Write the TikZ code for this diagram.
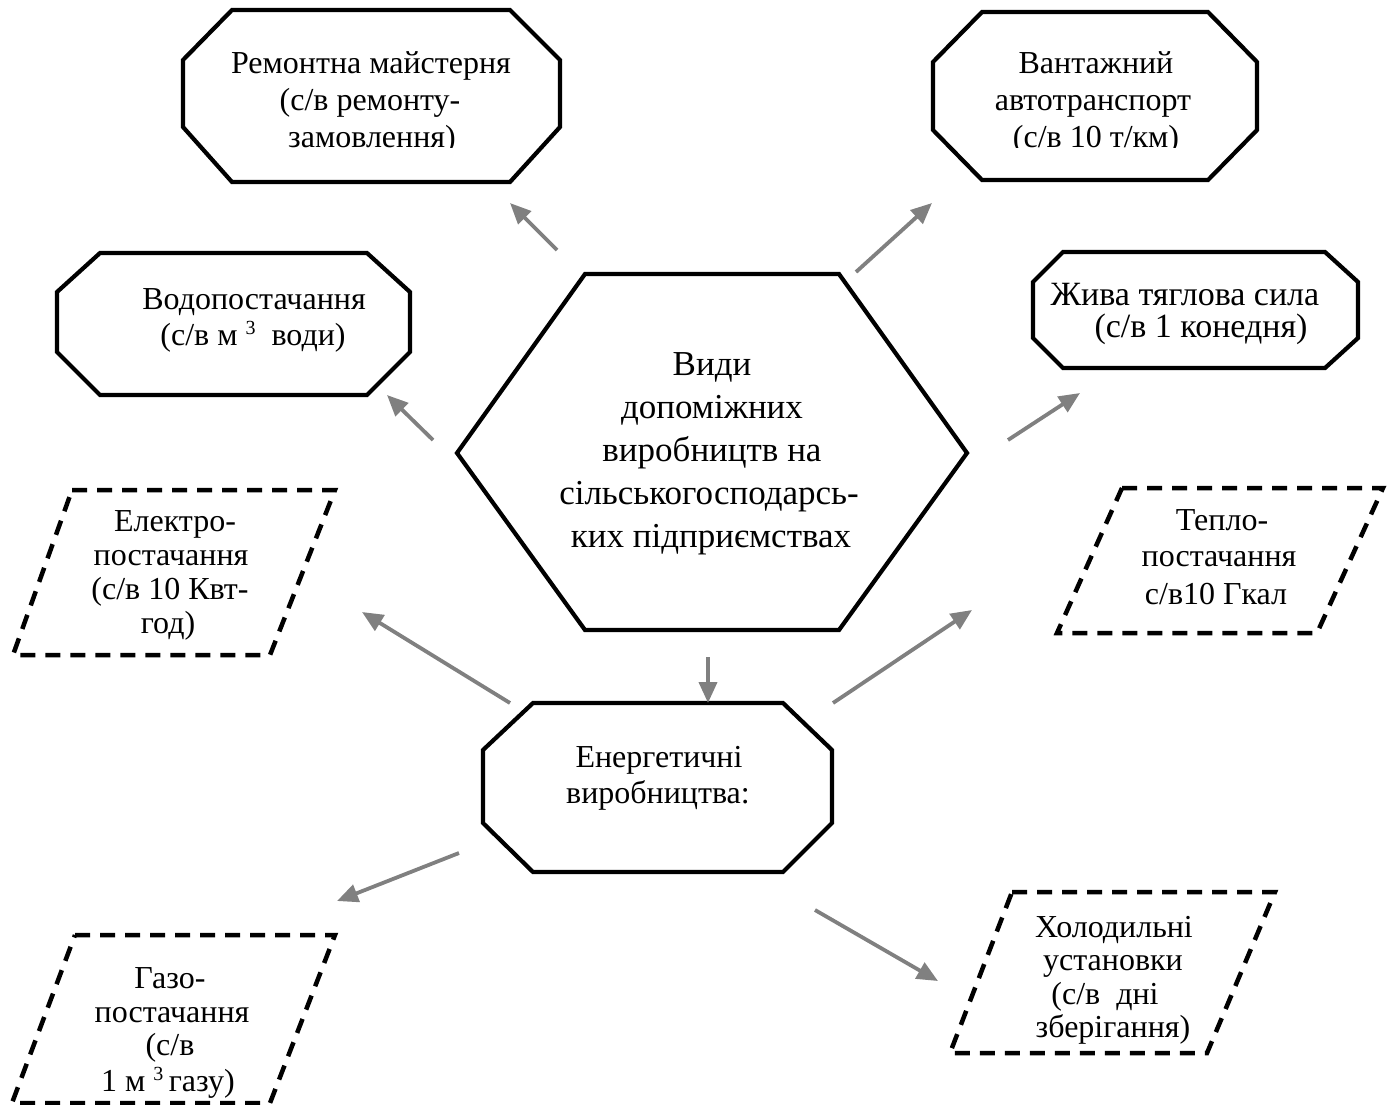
\documentclass[tikz,border=0pt]{standalone}
\usepackage{fontspec}
\setmainfont{Liberation Serif}
\usetikzlibrary{arrows.meta}
\definecolor{arrowgray}{RGB}{128,128,128}
\newcommand{\supthree}{\raisebox{0.33em}{\fontsize{20}{20}\selectfont 3}}
\tikzset{
  lbl/.style={font=\fontsize{32}{36}\selectfont, inner sep=0pt, anchor=base},
  lblsm/.style={font=\fontsize{34}{34}\selectfont, inner sep=0pt, anchor=base},
  big/.style={font=\fontsize{35}{43}\selectfont, inner sep=0pt, anchor=base},
  solidbox/.style={draw=black, line width=4.2pt, line join=miter},
  dashbox/.style={draw=black, line width=4.5pt, dash pattern=on 15pt off 10pt},
  arr/.style={draw=arrowgray, line width=3.8pt, -{Triangle[length=21pt,width=18pt]}}
}
\begin{document}
\begin{tikzpicture}[x=1pt,y=-1pt]
\useasboundingbox (0,0) rectangle (1394,1104);
% ---------- outlines ----------
% central hexagon
\draw[solidbox] (585,274) -- (839,274) -- (967,453) -- (839,630) -- (585,630) -- (457,453) -- cycle;
% repair workshop
\draw[solidbox] (232,10) -- (510,10) -- (560,60) -- (560,127) -- (510,182) -- (232,182) -- (183,127) -- (183,60) -- cycle;
% freight transport
\draw[solidbox] (982,12) -- (1208,12) -- (1257,62) -- (1257,130) -- (1208,180) -- (982,180) -- (933,130) -- (933,62) -- cycle;
% water supply
\draw[solidbox] (100,253) -- (367,253) -- (410,292) -- (410,352) -- (367,395) -- (100,395) -- (57,352) -- (57,292) -- cycle;
% draught power
\draw[solidbox] (1063,252) -- (1325,252) -- (1358,282) -- (1358,338) -- (1325,368) -- (1063,368) -- (1033,338) -- (1033,282) -- cycle;
% energy production
\draw[solidbox] (533,703) -- (783,703) -- (832,750) -- (832,823) -- (783,872) -- (533,872) -- (483,823) -- (483,750) -- cycle;
% dashed parallelograms
\draw[dashbox] (72,490) -- (335,490) -- (270,655) -- (13,655) -- cycle;
\draw[dashbox] (1122,488) -- (1383,488) -- (1317,633) -- (1057,633) -- cycle;
\draw[dashbox] (75,935) -- (335,935) -- (270,1103) -- (12,1103) -- cycle;
\draw[dashbox] (1012,892) -- (1275,892) -- (1207,1053) -- (950,1053) -- cycle;

% ---------- texts ----------
\node[big] (c1) at (712,375) {Види};
\node[big] (c2) at (712,418) {допоміжних};
\node[big] (c3) at (712,461) {виробництв на};
\node[big] (c4) at (709,504) {сільськогосподарсь-};
\node[big] (c5) at (711,547) {ких підприємствах};

\node[lbl] (r1) at (371,73) {Ремонтна майстерня};
\node[lbl] (r2) at (370,110) {(с/в ремонту-};
\node[lbl] (t1) at (1096,73) {Вантажний};
\node[lbl] (t2) at (1093,110) {автотранспорт};
\begin{scope}
\clip (0,0) rectangle (1394,147);
\node[lbl] (r3) at (372,147) {замовлення)};
\node[lbl] (t3) at (1096,147) {(с/в 10 т/км)};
\end{scope}

\node[lbl] (w1) at (254,309) {Водопостачання};
\node[lbl] (w2) at (253,345) {(с/в м \supthree~ води)};

\node[lblsm] (d1) at (1185,305) {Жива тяглова сила};
\node[lblsm] (d2) at (1201,337) {(с/в 1 конедня)};

\node[lbl] (e1) at (175,531) {Електро-};
\node[lbl] (e2) at (171,565) {постачання};
\node[lbl] (e3) at (170,599) {(с/в 10 Квт-};
\node[lbl] (e4) at (168,633) {год)};

\node[lbl] (h1) at (1222,530) {Тепло-};
\node[lbl] (h2) at (1219,566) {постачання};
\node[lbl] (h3) at (1216,604) {с/в10 Гкал};

\node[lbl] (n1) at (659,767) {Енергетичні};
\node[lbl] (n2) at (658,803) {виробництва:};

\node[lbl] (g1) at (170,988) {Газо-};
\node[lbl] (g2) at (172,1022) {постачання};
\node[lbl] (g3) at (170,1055) {(с/в};
\node[lbl] (g4) at (168,1091) {1 м \supthree\,газу)};

\node[lbl] (k1) at (1114,937) {Холодильні};
\node[lbl] (k2) at (1113,970) {установки};
\node[lbl] (k3) at (1105,1004) {(с/в~ дні};
\node[lbl] (k4) at (1113,1037) {зберігання)};

% ---------- connectors ----------
\coordinate (s1) at (557,250); \coordinate (e1t) at (510,203);
\coordinate (s2) at (856,272); \coordinate (e2t) at (932,203);
\coordinate (s3) at (433,440); \coordinate (e3t) at (387,395);
\coordinate (s4) at (1008,440); \coordinate (e4t) at (1080,393);
\coordinate (s5) at (510,703); \coordinate (e5t) at (362,612);
\coordinate (s6) at (833,703); \coordinate (e6t) at (972,610);
\coordinate (s7) at (708,657); \coordinate (e7t) at (708,703);
\coordinate (s8) at (459,853); \coordinate (e8t) at (337,901);
\coordinate (s9) at (815,910); \coordinate (e9t) at (938,981);
\draw[arr] (s1) -- (e1t);
\draw[arr] (s2) -- (e2t);
\draw[arr] (s3) -- (e3t);
\draw[arr] (s4) -- (e4t);
\draw[arr] (s5) -- (e5t);
\draw[arr] (s6) -- (e6t);
\draw[arr] (s7) -- (e7t);
\draw[arr] (s8) -- (e8t);
\draw[arr] (s9) -- (e9t);
\end{tikzpicture}
\end{document}
